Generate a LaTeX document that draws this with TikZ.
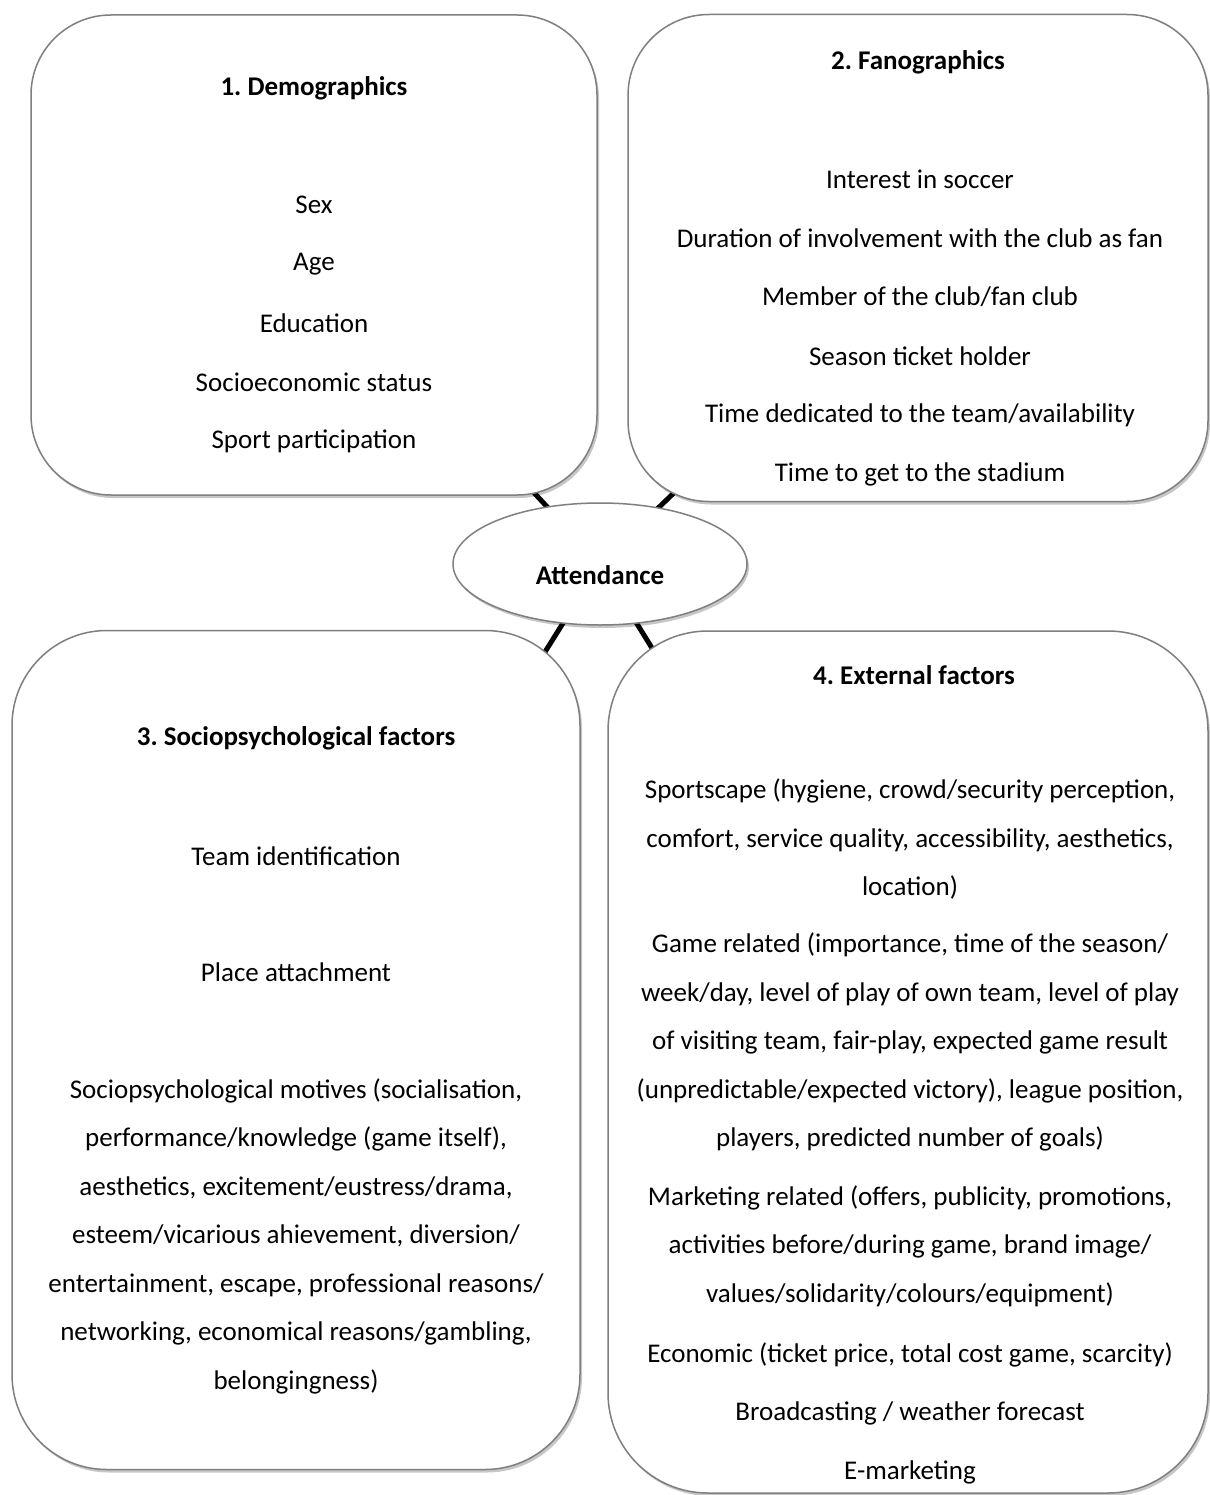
\documentclass[tikz,border=0pt]{standalone}
\usepackage{fontspec}
\setmainfont{Carlito}
\usepackage{tikz}
\usetikzlibrary{backgrounds}
\usetikzlibrary{shadows}
\usetikzlibrary{positioning, shapes.geometric}
\definecolor{rimgray}{HTML}{7F7F7F}
\tikzset{x=1pt,y=-1pt,
    box/.style={rectangle,draw=rimgray,line width=1.5pt,fill=white,
        drop shadow={shadow xshift=2pt,shadow yshift=-3pt,fill=black,opacity=0.22}},
    hub/.style={ellipse,draw=rimgray,line width=1.5pt,fill=white,
        minimum width=294pt,minimum height=122pt,font=\bfseries,
        text height=45pt,text depth=5pt,
        drop shadow={shadow xshift=2pt,shadow yshift=-3pt,fill=black,opacity=0.22}},
    link/.style={line width=5pt,black},
    titlenode/.style={font=\bfseries},
    textnode/.style={}}

\begin{document}
\frenchspacing
\fontsize{27}{48.5}\selectfont
\begin{tikzpicture}
[align=center,node distance=59pt]
\begin{scope}[on background layer]
\path[use as bounding box,fill=white] (0,0) rectangle (1209,1495);
\end{scope}
% the four boxes and the hub
\node[box,minimum width=566pt,minimum height=480pt,rounded corners=80pt] (demo) at (314,255) {};
\node[box,minimum width=580pt,minimum height=487pt,rounded corners=81pt] (fano) at (918,258) {};
\node[box,minimum width=568pt,minimum height=839pt,rounded corners=95pt] (socio) at (296,1050) {};
\node[box,minimum width=600pt,minimum height=862pt,rounded corners=100pt] (extern) at (908,1062) {};
\node[hub] (att) at (600,564) {Attendance};
\begin{scope}[on background layer]
\path[link]
	(att.center)	edge 	[] 	(demo.center)
    (att.center)	edge 	[] 	(fano.center)
    (att.center)	edge 	[] 	(socio.center)
    (att.center)	edge 	[] 	(extern.center);
\end{scope}
% 1. demographics
\node[titlenode] (demotitle) at (314,88) {1. Demographics};
\node[textnode] (sex)  at (314,205)       {Sex};
\node[textnode] (age)  [below of = sex]  {Age};
\node[textnode] (edu)  [below of = age]  {Education};
\node[textnode] (ses)  [below of = edu]  {Socioeconomic status};
\node[textnode] (sport) [below of = ses] {Sport participation};
% 2. fanographics
\node[titlenode] (fanotitle) at (918,62) {2. Fanographics};
\node[textnode] (interest) at (920,179)          {Interest in soccer};
\node[textnode] (duration) [below of = interest] {Duration of involvement with the club as fan};
\node[textnode] (member)   [below of = duration] {Member of the club/fan club};
\node[textnode] (season)   [below of = member]   {Season ticket holder};
\node[textnode] (timeded)  [below of = season]   {Time dedicated to the team/availability};
\node[textnode] (timeget)  [below of = timeded]  {Time to get to the stadium};
% 3. sociopsychological factors
\node[titlenode] (sociotitle) at (296,738) {3. Sociopsychological factors};
\node[textnode] (teamid) at (296,856) {Team identification};
\node[textnode] (place)  at (296,972) {Place attachment};
\node[textnode] (motives) at (296,1236) {Sociopsychological motives (socialisation,\\
    performance/knowledge (game itself),\\
    aesthetics, excitement/eustress/drama,\\
    esteem/vicarious ahievement, diversion/\\
    entertainment, escape, professional reasons/\\
    networking, economical reasons/gambling,\\
    belongingness)};
% 4. external factors
\node[titlenode] (externtitle) at (914,675) {4. External factors};
\node[textnode] (sportscape) at (910,839) {Sportscape (hygiene, crowd/security perception,\\
    comfort, service quality, accessibility, aesthetics,\\
    location)};
\node[textnode] (game) at (910,1042) {Game related (importance, time of the season/\\
    week/day, level of play of own team, level of play\\
    of visiting team, fair-play, expected game result\\
    (unpredictable/expected victory), league position,\\
    players, predicted number of goals)};
\node[textnode] (marketing) at (910,1246) {Marketing related (offers, publicity, promotions,\\
    activities before/during game, brand image/\\
    values/solidarity/colours/equipment)};
\node[textnode] (economic) at (910,1355) {Economic (ticket price, total cost game, scarcity)};
\node[textnode] (broadcast) at (910,1413) {Broadcasting / weather forecast};
\node[textnode] (emarket) at (910,1472) {E-marketing};
\end{tikzpicture}
\end{document}
